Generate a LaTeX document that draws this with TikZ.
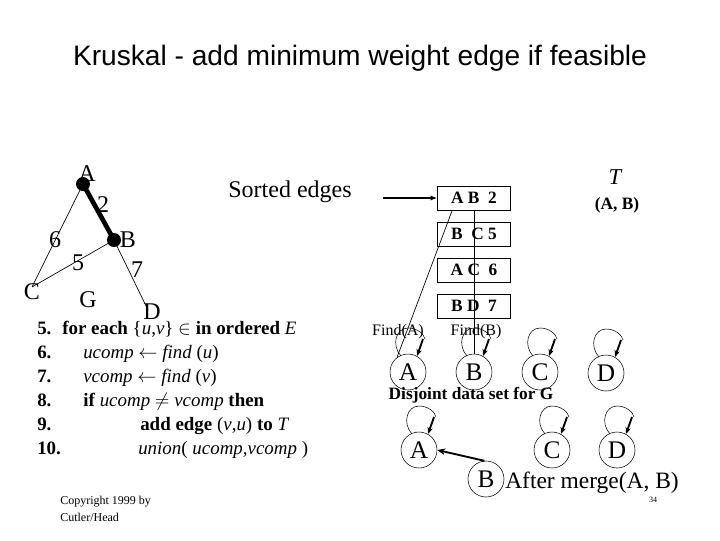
\documentclass[tikz,border=0pt]{standalone}
\usepackage{fontspec}
\setmainfont{Liberation Serif}
\newfontfamily\arialfont{Liberation Sans}
\usetikzlibrary{arrows.meta,calc}
\begin{document}
\begin{tikzpicture}[x=0.75pt,y=-0.75pt,
  dot/.style={circle,fill=black,inner sep=0pt,minimum size=10.5pt},
  glbl/.style={inner sep=0pt,font=\fontsize{18}{21}\selectfont},
  ebox/.style={draw,rectangle,minimum width=54.75pt,minimum height=18pt,inner sep=0pt,font=\bfseries\fontsize{13}{15}\selectfont},
  dset/.style={draw,circle,minimum size=27pt,inner sep=0pt,font=\fontsize{19}{22}\selectfont},
  code/.style={anchor=base west,inner sep=0pt,font=\fontsize{14.2}{17}\selectfont},
  num/.style={code,font=\bfseries\fontsize{14.2}{17}\selectfont},
  selfloop/.pic={
    \draw (-7,-16) .. controls (-17,-27) and (-12,-44) .. (0,-44) .. controls (9,-44) and (16,-38) .. (17,-33);
    \draw[line width=1.4pt,-{Stealth[length=5pt,width=4pt]}] (15,-33) -- (9,-16);
  }]
\useasboundingbox (0,0) rectangle (720,540);
% title
\node[font=\arialfont\fontsize{21.1}{25}\selectfont] (title) at (360,58) {Kruskal - add minimum weight edge if feasible};
% graph G
\node[glbl] (lA) at (87,174) {A};
\node[glbl] (lB) at (128,240) {B};
\node[glbl] (lC) at (32,292) {C};
\node[glbl] (lD) at (152,312) {D};
\node[glbl] (lG) at (88,300) {G};
\node[glbl] (w2) at (103,205) {2};
\node[glbl] (w6) at (55,240) {6};
\node[glbl] (w5) at (78,263) {5};
\node[glbl] (w7) at (137,270) {7};
\coordinate (gC) at (32,287);
\coordinate (gD) at (148,310);
\node[dot] (gA) at (83,184) {};
\node[dot] (gB) at (114,240) {};
\draw[line width=3.5pt] (gA.center) -- (gB.center);
\draw[line width=0.5pt] (gA.center) -- (gC) (gB.center) -- (gC) (gB.center) -- (gD);
% sorted edges
\node[font=\fontsize{18}{21}\selectfont] (sorted) at (290,192) {Sorted edges};
\node[ebox] (AB2) at (474,198) {A B\ \ 2};
\node[ebox] (BC5) at (474,234) {B\ \ C 5};
\node[ebox] (AC6) at (474,270) {A C\ \ 6};
\node[ebox] (BD7) at (474,306) {B D\ \ 7};
\coordinate (arrS) at (383,198);
\draw[line width=1.2pt,-{Latex[length=5pt,width=4pt]}] (arrS) -- (AB2.west);
\node[font=\itshape\fontsize{17}{20}\selectfont] (T) at (615,177) {T};
\node[font=\bfseries\fontsize{13}{15}\selectfont] (TAB) at (617,205) {(A, B)};
% disjoint sets
\node[font=\fontsize{12}{14}\selectfont] (fA) at (398,332) {Find(A)};
\node[font=\fontsize{12}{14}\selectfont] (fB) at (476,332) {Find(B)};
\node[dset] (A1) at (408,372) {A};
\node[dset] (B1) at (474,372) {B};
\node[dset] (C1) at (540,372) {C};
\node[dset] (D1) at (606,373) {D};
\foreach \n in {A1,B1,C1,D1} \pic at (\n) {selfloop};
\draw[line width=0.5pt] ([shift={(15,0)}]AB2.south west) -- (A1.127);
\draw[line width=0.6pt] (AB2.south) -- (B1.north);
\node[font=\bfseries\fontsize{13}{15}\selectfont] (dlabel) at (471,395) {Disjoint data set for G};
\node[dset] (A2) at (419,450) {A};
\node[dset] (C2) at (552,450) {C};
\node[dset] (D2) at (617,450) {D};
\node[dset] (B2) at (486,479) {B};
\foreach \n in {A2,C2,D2} \pic at (\n) {selfloop};
\draw[line width=1.4pt,-{Stealth[length=6pt,width=5pt]}] (B2.95) -- (A2.east);
\node[anchor=west,inner sep=0pt,font=\fontsize{17.6}{21}\selectfont] (merge) at (505,483) {After merge(A, B)};
\node[inner sep=0pt,font=\fontsize{6}{7}\selectfont] (pg) at (653,500) {34};
% pseudocode
\node[num] (n5) at (37,334) {5.};
\node[code] (c5) at (62,334) {\textbf{for each} \{\textit{u},\textit{v}\} $\in$ \textbf{in ordered} \textit{E}};
\node[num] (n6) at (37,358) {6.};
\node[code] (c6) at (83,358) {\textit{ucomp} $\leftarrow$ \textit{find} (\textit{u})};
\node[num] (n7) at (37,382) {7.};
\node[code] (c7) at (83,382) {\textit{vcomp} $\leftarrow$ \textit{find} (\textit{v})};
\node[num] (n8) at (37,406) {8.};
\node[code] (c8) at (83,406) {\textbf{if} \textit{ucomp} $\neq$ \textit{vcomp} \textbf{then}};
\node[num] (n9) at (37,430) {9.};
\node[code] (c9) at (140,430) {\textbf{add edge} (\textit{v},\textit{u}) \textbf{to} \textit{T}};
\node[num] (n10) at (37,454) {10.};
\node[code] (c10) at (138,454) {\textit{union}( \textit{ucomp},\textit{vcomp} )};
% copyright
\node[anchor=west,inner sep=0pt,font=\fontsize{9}{11}\selectfont] (cp1) at (60,502) {Copyright 1999 by};
\node[anchor=west,inner sep=0pt,font=\fontsize{9}{11}\selectfont] (cp2) at (60,517) {Cutler/Head};
\end{tikzpicture}
\end{document}
